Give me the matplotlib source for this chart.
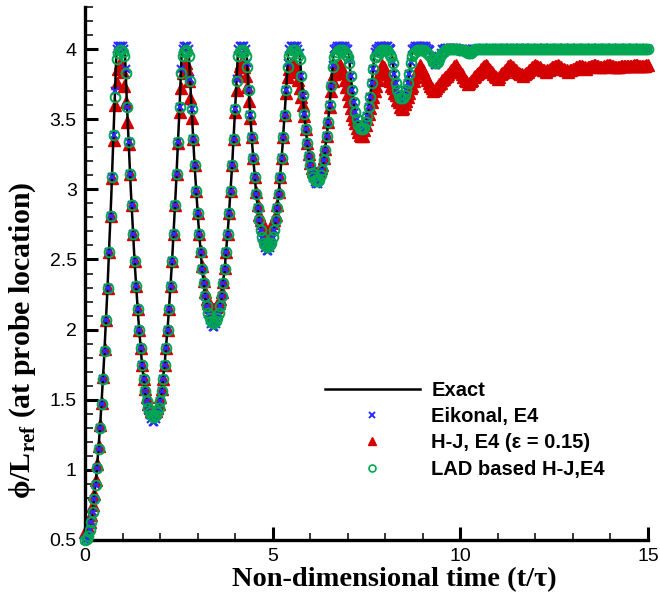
import matplotlib
matplotlib.use("Agg")
import matplotlib.pyplot as plt
import numpy as np
from matplotlib.lines import Line2D
from matplotlib.ticker import MultipleLocator, FixedLocator, FuncFormatter
from matplotlib.font_manager import FontProperties

plt.rcParams['font.family'] = ['Liberation Sans', 'DejaVu Sans']
plt.rcParams['mathtext.fontset'] = 'custom'
plt.rcParams['mathtext.rm'] = 'Liberation Serif'
plt.rcParams['mathtext.bf'] = 'Liberation Serif:bold'

# exact solution (t/tau, phi/Lref)
t_exact = [0.0, 0.1, 0.2, 0.3, 0.4, 0.5, 0.6, 0.7, 0.8, 0.84,
           1.06, 1.12, 1.22, 1.32, 1.42, 1.52, 1.62, 1.72, 1.82, 1.92, 2.02, 2.12, 2.22, 2.32, 2.42, 2.52, 2.58,
           2.76, 2.82, 2.92, 3.02, 3.12, 3.22, 3.32, 3.42, 3.52, 3.62, 3.72, 3.82, 3.92, 4.02, 4.08,
           4.30, 4.36, 4.46, 4.56, 4.66, 4.76, 4.86, 4.96, 5.06, 5.16, 5.26, 5.36, 5.42,
           5.71, 5.77, 5.87, 5.97, 6.07, 6.17, 6.27, 6.37, 6.47, 6.57, 6.63,
           7.02, 7.07, 7.17, 7.27, 7.37, 7.47, 7.57, 7.67, 7.72,
           8.16, 8.24, 8.34, 8.44, 8.54, 8.64, 8.72,
           9.20, 9.25, 9.30, 9.35, 9.40, 9.45, 9.50,
           10.18, 10.25, 10.32, 15.0]
phi_exact = [0.50, 0.55, 0.70, 0.95, 1.30, 1.75, 2.30, 2.95, 3.70, 4.00,
             4.00, 3.59, 3.00, 2.49, 2.08, 1.75, 1.52, 1.39, 1.34, 1.39, 1.52, 1.75, 2.08, 2.49, 3.00, 3.59, 4.00,
             4.00, 3.68, 3.17, 2.76, 2.43, 2.20, 2.07, 2.02, 2.07, 2.20, 2.43, 2.76, 3.17, 3.68, 4.00,
             4.00, 3.71, 3.30, 2.97, 2.74, 2.61, 2.56, 2.61, 2.74, 2.97, 3.30, 3.71, 4.00,
             4.00, 3.78, 3.45, 3.22, 3.09, 3.04, 3.09, 3.22, 3.45, 3.78, 4.00,
             4.00, 3.83, 3.60, 3.47, 3.42, 3.47, 3.60, 3.83, 4.00,
             4.00, 3.82, 3.69, 3.64, 3.69, 3.82, 4.00,
             4.00, 3.94, 3.90, 3.89, 3.90, 3.94, 4.00,
             4.00, 3.98, 4.00, 4.00]

# numerical solutions, written every 0.04 t/tau (one row = one time unit)
phi_eikonal = [
    0.50, 0.51, 0.53, 0.57, 0.63, 0.70, 0.79, 0.89, 1.01, 1.15, 1.30, 1.47, 1.65, 1.85, 2.07, 2.30, 2.55, 2.81, 3.09, 3.39, 3.70, 4.00, 4.02, 4.02, 4.02,
    4.02, 4.00, 3.86, 3.59, 3.34, 3.11, 2.89, 2.68, 2.49, 2.31, 2.15, 2.00, 1.87, 1.75, 1.65, 1.56, 1.49, 1.43, 1.39, 1.36, 1.34, 1.34, 1.36, 1.39, 1.43,
    1.49, 1.56, 1.65, 1.75, 1.87, 2.00, 2.15, 2.31, 2.49, 2.68, 2.89, 3.11, 3.34, 3.59, 3.86, 4.00, 4.02, 4.02, 4.02, 4.00, 3.79, 3.57, 3.36, 3.17, 2.99,
    2.83, 2.68, 2.55, 2.43, 2.33, 2.24, 2.17, 2.11, 2.07, 2.04, 2.02, 2.02, 2.04, 2.07, 2.11, 2.17, 2.24, 2.33, 2.43, 2.55, 2.68, 2.83, 2.99, 3.17, 3.36,
    3.57, 3.79, 4.00, 4.02, 4.02, 4.02, 4.02, 4.00, 3.90, 3.71, 3.53, 3.37, 3.22, 3.09, 2.97, 2.87, 2.78, 2.71, 2.65, 2.61, 2.58, 2.56, 2.56, 2.58, 2.61,
    2.65, 2.71, 2.78, 2.87, 2.97, 3.09, 3.22, 3.37, 3.53, 3.71, 3.90, 4.00, 4.02, 4.02, 4.02, 4.02, 4.02, 4.00, 3.97, 3.81, 3.67, 3.54, 3.43, 3.33, 3.24,
    3.17, 3.12, 3.08, 3.05, 3.04, 3.04, 3.06, 3.10, 3.14, 3.21, 3.28, 3.38, 3.48, 3.60, 3.74, 3.89, 4.00, 4.01, 4.02, 4.02, 4.02, 4.02, 4.02, 4.02, 4.01,
    4.00, 3.92, 3.81, 3.71, 3.62, 3.55, 3.50, 3.46, 3.43, 3.42, 3.42, 3.44, 3.48, 3.52, 3.59, 3.66, 3.76, 3.86, 3.98, 4.00, 4.01, 4.02, 4.02, 4.02, 4.02,
    4.02, 4.02, 4.02, 4.01, 4.00, 3.91, 3.82, 3.76, 3.71, 3.67, 3.65, 3.64, 3.65, 3.67, 3.71, 3.76, 3.82, 3.91, 4.00, 4.01, 4.02, 4.02, 4.02, 4.02, 4.02,
    4.02, 4.02, 4.02, 4.01, 4.00, 3.99, 3.95, 3.91, 3.89, 3.89, 3.90, 3.93, 3.97, 4.00, 4.00, 4.01, 4.01, 4.01, 4.01, 4.01, 4.01, 4.01, 4.01, 4.01, 4.00,
    4.00, 4.00, 4.00, 4.00, 4.00, 3.99, 3.98, 3.98, 4.00, 4.00, 4.00, 4.00, 4.00, 4.00, 4.00, 4.01, 4.00, 4.00, 4.00, 4.00, 4.01, 4.00, 4.00, 4.00, 4.00,
    4.00, 4.01, 4.00, 4.00, 4.01, 4.00, 4.00, 4.00, 4.01, 4.00, 4.00, 4.01, 4.00, 4.00, 4.00, 4.01, 4.00, 4.00, 4.01, 4.00, 4.00, 4.00, 4.01, 4.00, 4.00,
    4.00, 4.00, 4.01, 4.00, 4.00, 4.00, 4.01, 4.00, 4.00, 4.00, 4.01, 4.00, 4.00, 4.00, 4.00, 4.01, 4.00, 4.00, 4.00, 4.01, 4.00, 4.00, 4.00, 4.00, 4.01,
    4.00, 4.00, 4.00, 4.01, 4.00, 4.00, 4.00, 4.00, 4.01, 4.00, 4.00, 4.00, 4.00, 4.01, 4.00, 4.00, 4.00, 4.01, 4.00, 4.00, 4.00, 4.00, 4.01, 4.00, 4.00,
    4.00, 4.01, 4.00, 4.00, 4.00, 4.00, 4.01, 4.00, 4.00, 4.00, 4.00, 4.01, 4.00, 4.00, 4.00, 4.01, 4.00, 4.00, 4.00, 4.00, 4.01, 4.00, 4.00, 4.00, 4.00,
    4.00]

phi_hj = [
    0.56, 0.57, 0.59, 0.63, 0.68, 0.75, 0.83, 0.93, 1.04, 1.17, 1.32, 1.48, 1.66, 1.86, 2.07, 2.30, 2.55, 2.81, 3.08, 3.35, 3.60, 3.76, 3.86, 3.90, 3.89,
    3.84, 3.74, 3.62, 3.48, 3.32, 3.11, 2.89, 2.68, 2.49, 2.31, 2.15, 2.00, 1.87, 1.75, 1.65, 1.58, 1.52, 1.47, 1.44, 1.42, 1.41, 1.41, 1.42, 1.44, 1.47,
    1.52, 1.58, 1.65, 1.75, 1.87, 2.00, 2.15, 2.31, 2.49, 2.68, 2.89, 3.11, 3.33, 3.55, 3.72, 3.83, 3.89, 3.90, 3.86, 3.77, 3.65, 3.51, 3.36, 3.17, 2.99,
    2.83, 2.68, 2.56, 2.45, 2.35, 2.27, 2.22, 2.19, 2.17, 2.16, 2.15, 2.15, 2.16, 2.17, 2.19, 2.22, 2.27, 2.34, 2.44, 2.55, 2.68, 2.83, 2.99, 3.17, 3.36,
    3.55, 3.71, 3.82, 3.88, 3.90, 3.90, 3.87, 3.81, 3.73, 3.63, 3.51, 3.37, 3.22, 3.09, 2.98, 2.89, 2.82, 2.78, 2.76, 2.72, 2.67, 2.64, 2.64, 2.67, 2.72,
    2.76, 2.78, 2.82, 2.89, 2.98, 3.09, 3.22, 3.37, 3.53, 3.69, 3.80, 3.86, 3.89, 3.90, 3.90, 3.88, 3.84, 3.78, 3.72, 3.66, 3.60, 3.52, 3.43, 3.33, 3.25,
    3.19, 3.15, 3.13, 3.12, 3.12, 3.12, 3.13, 3.15, 3.17, 3.22, 3.29, 3.38, 3.48, 3.59, 3.70, 3.77, 3.82, 3.86, 3.89, 3.90, 3.89, 3.86, 3.83, 3.78, 3.73,
    3.68, 3.63, 3.58, 3.53, 3.50, 3.47, 3.44, 3.41, 3.39, 3.38, 3.38, 3.42, 3.46, 3.50, 3.54, 3.58, 3.62, 3.66, 3.70, 3.74, 3.78, 3.82, 3.86, 3.89, 3.87,
    3.84, 3.82, 3.79, 3.77, 3.74, 3.72, 3.69, 3.67, 3.64, 3.62, 3.59, 3.57, 3.58, 3.61, 3.63, 3.66, 3.69, 3.72, 3.74, 3.77, 3.80, 3.83, 3.86, 3.89, 3.87,
    3.85, 3.83, 3.80, 3.78, 3.76, 3.74, 3.72, 3.70, 3.71, 3.72, 3.74, 3.75, 3.76, 3.78, 3.79, 3.80, 3.81, 3.82, 3.84, 3.85, 3.86, 3.88, 3.89, 3.87, 3.85,
    3.84, 3.82, 3.80, 3.78, 3.77, 3.75, 3.76, 3.77, 3.78, 3.80, 3.81, 3.82, 3.83, 3.84, 3.86, 3.87, 3.88, 3.89, 3.88, 3.86, 3.85, 3.84, 3.82, 3.81, 3.80,
    3.79, 3.80, 3.82, 3.83, 3.84, 3.85, 3.86, 3.88, 3.89, 3.88, 3.87, 3.86, 3.85, 3.84, 3.83, 3.82, 3.82, 3.81, 3.82, 3.83, 3.84, 3.85, 3.86, 3.87, 3.88,
    3.89, 3.88, 3.87, 3.87, 3.86, 3.85, 3.85, 3.84, 3.85, 3.85, 3.86, 3.87, 3.87, 3.88, 3.88, 3.89, 3.88, 3.87, 3.86, 3.86, 3.85, 3.85, 3.84, 3.85, 3.85,
    3.86, 3.86, 3.87, 3.87, 3.88, 3.88, 3.88, 3.87, 3.87, 3.86, 3.87, 3.87, 3.88, 3.88, 3.89, 3.89, 3.88, 3.88, 3.87, 3.87, 3.87, 3.88, 3.88, 3.89, 3.89,
    3.89, 3.88, 3.88, 3.87, 3.87, 3.87, 3.87, 3.88, 3.88, 3.88, 3.88, 3.88, 3.88, 3.88, 3.88, 3.88, 3.89, 3.89, 3.89, 3.88, 3.88, 3.88, 3.88, 3.88, 3.89,
    3.89]

phi_lad = [
    0.50, 0.51, 0.53, 0.57, 0.63, 0.70, 0.79, 0.89, 1.01, 1.15, 1.30, 1.47, 1.65, 1.85, 2.07, 2.30, 2.55, 2.81, 3.09, 3.39, 3.66, 3.93, 3.97, 3.99, 3.99,
    3.98, 3.95, 3.83, 3.59, 3.34, 3.11, 2.89, 2.68, 2.49, 2.31, 2.15, 2.00, 1.87, 1.75, 1.65, 1.56, 1.49, 1.44, 1.41, 1.39, 1.38, 1.38, 1.39, 1.41, 1.44,
    1.49, 1.56, 1.65, 1.75, 1.87, 2.00, 2.15, 2.31, 2.49, 2.68, 2.89, 3.11, 3.34, 3.59, 3.83, 3.95, 3.98, 3.99, 3.98, 3.95, 3.77, 3.57, 3.36, 3.17, 2.99,
    2.83, 2.68, 2.55, 2.43, 2.33, 2.24, 2.17, 2.12, 2.08, 2.06, 2.05, 2.05, 2.06, 2.08, 2.12, 2.17, 2.24, 2.33, 2.43, 2.55, 2.68, 2.83, 2.99, 3.17, 3.36,
    3.57, 3.77, 3.95, 3.98, 3.99, 3.99, 3.98, 3.95, 3.87, 3.71, 3.53, 3.37, 3.22, 3.09, 2.97, 2.87, 2.78, 2.71, 2.66, 2.62, 2.60, 2.59, 2.59, 2.60, 2.62,
    2.66, 2.71, 2.78, 2.87, 2.97, 3.09, 3.22, 3.37, 3.53, 3.71, 3.87, 3.95, 3.97, 3.99, 3.99, 3.99, 3.97, 3.95, 3.93, 3.81, 3.67, 3.54, 3.43, 3.33, 3.24,
    3.17, 3.12, 3.09, 3.07, 3.06, 3.06, 3.07, 3.10, 3.14, 3.21, 3.28, 3.38, 3.48, 3.60, 3.74, 3.87, 3.94, 3.96, 3.98, 3.99, 3.99, 3.99, 3.99, 3.98, 3.96,
    3.94, 3.90, 3.81, 3.71, 3.62, 3.55, 3.50, 3.46, 3.44, 3.43, 3.43, 3.44, 3.48, 3.52, 3.59, 3.66, 3.76, 3.86, 3.94, 3.94, 3.96, 3.98, 3.99, 3.99, 3.99,
    3.99, 3.99, 3.98, 3.96, 3.94, 3.90, 3.82, 3.76, 3.71, 3.67, 3.65, 3.65, 3.65, 3.67, 3.71, 3.76, 3.82, 3.90, 3.95, 3.97, 3.98, 3.99, 3.99, 3.99, 3.99,
    3.99, 3.99, 3.98, 3.97, 3.96, 3.95, 3.93, 3.91, 3.90, 3.90, 3.91, 3.93, 3.96, 3.97, 3.98, 3.99, 4.00, 4.00, 4.00, 4.00, 4.00, 4.00, 4.00, 4.00, 3.99,
    3.99, 3.99, 3.99, 3.99, 3.98, 3.97, 3.97, 3.97, 3.98, 3.99, 4.00, 4.00, 4.00, 4.00, 4.00, 4.00, 4.00, 4.00, 4.00, 4.00, 4.00, 4.00, 4.00, 4.00, 4.00,
    4.00, 4.00, 4.00, 4.00, 4.00, 4.00, 4.00, 4.00, 4.00, 4.00, 4.00, 4.00, 4.00, 4.00, 4.00, 4.00, 4.00, 4.00, 4.00, 4.00, 4.00, 4.00, 4.00, 4.00, 4.00,
    4.00, 4.00, 4.00, 4.00, 4.00, 4.00, 4.00, 4.00, 4.00, 4.00, 4.00, 4.00, 4.00, 4.00, 4.00, 4.00, 4.00, 4.00, 4.00, 4.00, 4.00, 4.00, 4.00, 4.00, 4.00,
    4.00, 4.00, 4.00, 4.00, 4.00, 4.00, 4.00, 4.00, 4.00, 4.00, 4.00, 4.00, 4.00, 4.00, 4.00, 4.00, 4.00, 4.00, 4.00, 4.00, 4.00, 4.00, 4.00, 4.00, 4.00,
    4.00, 4.00, 4.00, 4.00, 4.00, 4.00, 4.00, 4.00, 4.00, 4.00, 4.00, 4.00, 4.00, 4.00, 4.00, 4.00, 4.00, 4.00, 4.00, 4.00, 4.00, 4.00, 4.00, 4.00, 4.00,
    4.00]

labels = ['Exact', 'Eikonal, E4', 'H-J, E4 (ε = 0.15)', 'LAD based H-J,E4']
x_ticks = [0, 5, 10, 15]
y_ticks = [0.5, 1, 1.5, 2, 2.5, 3, 3.5, 4]

c_blue = '#2b2bff'
c_red = '#d40000'
c_green = '#00a650'

t_out = np.round(np.arange(len(phi_eikonal)) * 0.04, 2)

fig = plt.figure(figsize=(6.6, 5.94), dpi=100)
ax = fig.add_axes([85 / 660, 54 / 594, 563 / 660, 533 / 594])

ax.plot(t_out, phi_hj, ls='none', marker='^', ms=8.5, color=c_red, mec=c_red, zorder=2, clip_on=False)
ax.plot(t_exact, phi_exact, color='k', lw=1.8, zorder=3)
ax.plot(t_out, phi_eikonal, ls='none', marker='x', ms=6.2, mew=1.5, color=c_blue, zorder=4, clip_on=False)
ax.plot(t_out, phi_lad, ls='none', marker='o', ms=7.0, mfc='none', mec=c_green, mew=1.4, zorder=5, clip_on=False)

ax.set_xlim(0, 15)
ax.set_ylim(0.5, 4.3)
for s in ['top', 'right']:
    ax.spines[s].set_visible(False)
for s in ['left', 'bottom']:
    ax.spines[s].set_linewidth(2.4)

ax.xaxis.set_major_locator(FixedLocator(x_ticks))
ax.xaxis.set_minor_locator(MultipleLocator(1))
ax.yaxis.set_major_locator(FixedLocator(y_ticks))
ax.yaxis.set_minor_locator(MultipleLocator(0.1))
fmt = FuncFormatter(lambda v, p: '%g' % v)
ax.xaxis.set_major_formatter(fmt)
ax.yaxis.set_major_formatter(fmt)
ax.tick_params(which='major', direction='in', length=9.4, width=2.2, labelsize=14, pad=6)
ax.tick_params(which='minor', direction='in', length=5.4, width=1.1)

serif = ['Liberation Serif', 'DejaVu Serif']
ax.set_xlabel('Non-dimensional time (t/τ)', family=serif, weight='bold', size=20.5)
ax.xaxis.set_label_coords(0.549, -0.051)
ax.set_ylabel('ϕ/L$_{\\mathbf{ref}}$ (at probe location)', family=serif, weight='bold', size=21.5)
ax.yaxis.set_label_coords(-0.083, 0.375)

handles = [Line2D([], [], color='k', lw=1.8),
           Line2D([], [], ls='none', marker='x', ms=4.5, mew=1.4, color=c_blue),
           Line2D([], [], ls='none', marker='^', ms=6, color=c_red),
           Line2D([], [], ls='none', marker='o', ms=5, mfc='none', mec=c_green, mew=1.2)]
ax.legend(handles, labels, loc='upper left', bbox_to_anchor=(325 / 660, 1 - 381 / 594),
          bbox_transform=fig.transFigure, frameon=False, handlelength=4.7,
          handletextpad=0.58, labelspacing=0.36, borderpad=0, borderaxespad=0,
          prop=FontProperties(family=['Liberation Sans', 'DejaVu Sans'], weight='bold', size=14.5))

fig.savefig('out.png', dpi=100)
